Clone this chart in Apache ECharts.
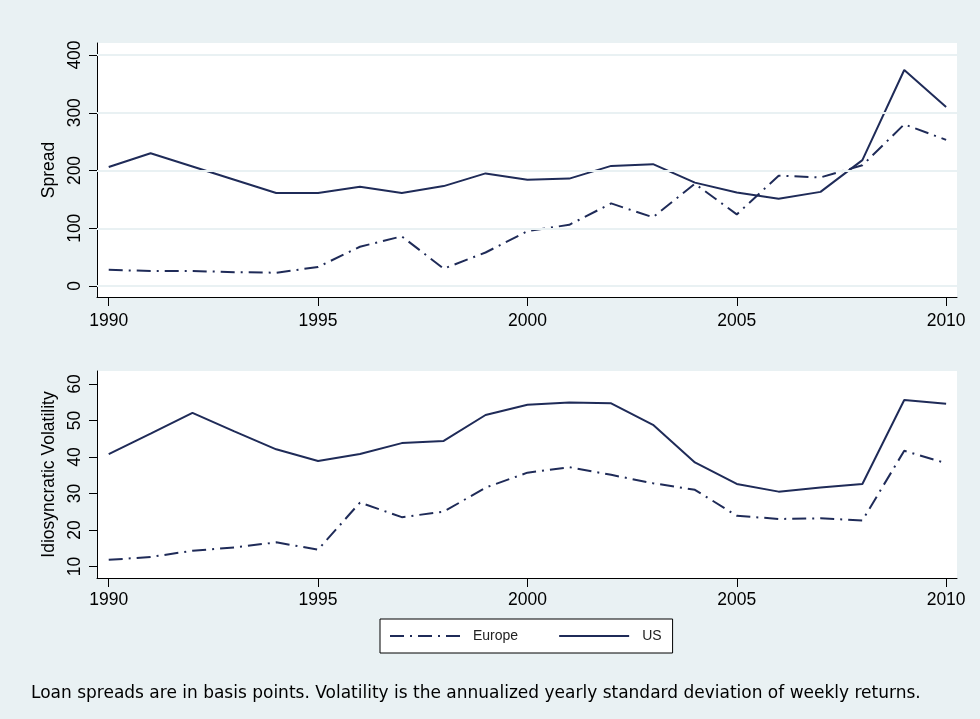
<!DOCTYPE html>
<html><head><meta charset="utf-8">
<script src="https://cdn.jsdelivr.net/npm/echarts@6/dist/echarts.min.js"></script>
<style>html,body{margin:0;padding:0;background:#e9f1f3;}#c{width:980px;height:719px;}</style>
</head><body><div id="c"></div>
<script>
const years = [1990,1991,1992,1993,1994,1995,1996,1997,1998,1999,2000,2001,2002,2003,2004,2005,2006,2007,2008,2009,2010];
const spreadUS = [206,230,207,184,161,161,172,161,173,195,184,186,208,211,179,162,151,163,218,374,310];
const spreadEurope = [28,26,26,24,23,33,68,86,30,58,95,106,143,119,177,124,191,188,209,280,253];
const volUS = [40.8,46.4,52.1,47.0,42.1,38.9,40.8,43.8,44.4,51.5,54.3,54.9,54.7,48.8,38.5,32.6,30.5,31.6,32.6,55.6,54.6];
const volEurope = [11.8,12.6,14.3,15.2,16.6,14.6,27.5,23.5,25.0,31.6,35.7,37.2,35.1,32.8,31.0,23.9,23.0,23.2,22.6,41.7,38.3];
const xTicks = [1990,1995,2000,2005,2010];
const spreadTicks = [0,100,200,300,400];
const volTicks = [10,20,30,40,50,60];
const seriesNames = ['Europe','US'];
const caption = 'Loan spreads are in basis points. Volatility is the annualized yearly standard deviation of weekly returns.';

const FONT = '"Liberation Sans", Arial, sans-serif';
const LINE = '#1f2b58';
const BG = '#e9f1f3';
const dashDot = [14,6,2,6];
const pairs = (vals) => years.map((y,i)=>[y, vals[i]]);

function xAxis(gridIndex, margin){
  return {
    type:'value', gridIndex, min:1989.72, max:2010.26,
    axisLine:{show:true, onZero:false, lineStyle:{color:'#000', width:1}},
    axisTick:{show:true, length:9, customValues:xTicks, lineStyle:{color:'#000'}},
    axisLabel:{customValues:xTicks, margin, fontSize:17.5, color:'#000', fontFamily:FONT, formatter:(v)=>String(v)},
    splitLine:{show:false}
  };
}
function yAxis(gridIndex, min, max, ticks, name){
  return {
    type:'value', gridIndex, min, max,
    name, nameLocation:'middle', nameGap:32, nameRotate:90,
    nameTextStyle:{fontSize:17.5, color:'#000', fontFamily:FONT},
    axisLine:{show:true, onZero:false, lineStyle:{color:'#000', width:1}},
    axisTick:{show:true, length:8, customValues:ticks, lineStyle:{color:'#000'}},
    axisLabel:{customValues:ticks, rotate:90, margin:13, fontSize:17.5, color:'#000', fontFamily:FONT, formatter:(v)=>String(v)},
    splitLine:{show:false}
  };
}

const chart = echarts.init(document.getElementById('c'), null, {renderer:'canvas'});
chart.setOption({
  backgroundColor: BG,
  animation:false,
  title:{
    text: caption, left:31, top:685, padding:0,
    textStyle:{fontSize:17, fontWeight:'normal', color:'#000', fontFamily:'"DejaVu Sans", sans-serif'}
  },
  legend:{
    data: seriesNames,
    left:380, top:619,
    itemWidth:70, itemHeight:14, itemGap:40,
    padding:[10,11,10,9],
    itemStyle:{opacity:0, borderWidth:0},
    backgroundColor:'#fff', borderColor:'#000', borderWidth:1, borderRadius:0,
    textStyle:{fontSize:14, color:'#222', fontFamily:FONT, padding:[0,0,0,8]}
  },
  grid:[
    {left:97, right:23, top:43, height:254, show:true, backgroundColor:'#fff', borderWidth:0},
    {left:97, right:23, top:371, height:207, show:true, backgroundColor:'#fff', borderWidth:0}
  ],
  xAxis:[xAxis(0,15), xAxis(1,13)],
  yAxis:[yAxis(0,-19.05,420.8,spreadTicks,'Spread'), yAxis(1,6.83,63.56,volTicks,'Idiosyncratic Volatility')],
  series:[
    {
      type:'line', name:'gridlines', xAxisIndex:0, yAxisIndex:0, data:[], z:1, silent:true,
      markLine:{silent:true, symbol:'none', label:{show:false},
        lineStyle:{color:BG, width:2, type:'solid'},
        data: spreadTicks.map(v=>({yAxis:v}))}
    },
    {type:'line', name:seriesNames[0], xAxisIndex:0, yAxisIndex:0, data:pairs(spreadEurope), symbol:'none', z:3,
      lineStyle:{color:LINE, width:2, type:dashDot}, itemStyle:{color:LINE}},
    {type:'line', name:seriesNames[1], xAxisIndex:0, yAxisIndex:0, data:pairs(spreadUS), symbol:'none', z:3,
      lineStyle:{color:LINE, width:2, type:'solid'}, itemStyle:{color:LINE}},
    {type:'line', name:seriesNames[0], xAxisIndex:1, yAxisIndex:1, data:pairs(volEurope), symbol:'none', z:3,
      lineStyle:{color:LINE, width:2, type:dashDot}, itemStyle:{color:LINE}},
    {type:'line', name:seriesNames[1], xAxisIndex:1, yAxisIndex:1, data:pairs(volUS), symbol:'none', z:3,
      lineStyle:{color:LINE, width:2, type:'solid'}, itemStyle:{color:LINE}}
  ]
});
</script></body></html>
